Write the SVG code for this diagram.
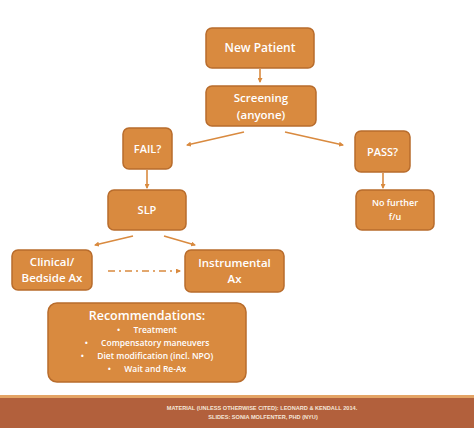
<svg xmlns="http://www.w3.org/2000/svg" width="474" height="428" viewBox="0 0 474 428">
<style>
.box{fill:#D98A3F;stroke:#B86C2C;stroke-width:1.5}
.t{fill:#FFFFFF;font-family:"Open Sans","Liberation Sans",sans-serif;text-anchor:middle;font-weight:600}
.b{white-space:pre}
.c{stroke:#D98A3F;stroke-width:1.6;fill:none}
.f{fill:#F5E6D8;font-family:"Liberation Sans",sans-serif;text-anchor:middle;font-size:5.6px;font-weight:bold}
</style>
<defs>
<marker id="ah" viewBox="0 0 10 10" refX="8" refY="5" markerWidth="5" markerHeight="5" orient="auto" markerUnits="userSpaceOnUse">
<path d="M0,0 L10,5 L0,10 z" fill="#D98A3F"/>
</marker>
</defs>
<rect width="474" height="428" fill="#FFFFFF"/>
<g id="connectors">
<line class="c" x1="260" y1="69" x2="260" y2="82" marker-end="url(#ah)"/>
<line class="c" x1="244" y1="132" x2="187" y2="145" marker-end="url(#ah)"/>
<line class="c" x1="285" y1="132" x2="343" y2="145" marker-end="url(#ah)"/>
<line class="c" x1="147" y1="170" x2="147" y2="188" marker-end="url(#ah)"/>
<line class="c" x1="383" y1="173" x2="383" y2="188" marker-end="url(#ah)"/>
<line class="c" x1="133" y1="236" x2="95" y2="245" marker-end="url(#ah)"/>
<line class="c" x1="164" y1="236" x2="195" y2="245" marker-end="url(#ah)"/>
<line class="c" x1="108" y1="271" x2="180" y2="271" stroke-dasharray="7,4,2,4" marker-end="url(#ah)"/>
</g>
<g id="new-patient">
<rect class="box" x="206" y="28" width="108" height="40" rx="6"/>
<text class="t" x="260" y="52" font-size="12">New Patient</text>
</g>
<g id="screening">
<rect class="box" x="206" y="86" width="110" height="40" rx="6"/>
<text class="t" x="261" y="102" font-size="11.5">Screening</text>
<text class="t" x="261" y="119" font-size="11.5">(anyone)</text>
</g>
<g id="fail">
<rect class="box" x="123" y="128" width="49" height="41" rx="6"/>
<text class="t" x="147.5" y="153" font-size="11">FAIL?</text>
</g>
<g id="pass">
<rect class="box" x="355" y="131" width="55" height="41" rx="6"/>
<text class="t" x="382.5" y="156" font-size="11">PASS?</text>
</g>
<g id="slp">
<rect class="box" x="108" y="190" width="78" height="40" rx="6"/>
<text class="t" x="147" y="214" font-size="11">SLP</text>
</g>
<g id="no-further">
<rect class="box" x="356" y="190" width="78" height="40" rx="6"/>
<text class="t" x="395" y="206" font-size="9">No further</text>
<text class="t" x="395" y="220" font-size="9">f/u</text>
</g>
<g id="clinical">
<rect class="box" x="12" y="250" width="80" height="40" rx="6"/>
<text class="t" x="52" y="266" font-size="11.5">Clinical/</text>
<text class="t" x="52" y="282" font-size="11.5">Bedside Ax</text>
</g>
<g id="instrumental">
<rect class="box" x="185" y="250" width="99" height="42" rx="6"/>
<text class="t" x="234.5" y="267" font-size="11.5">Instrumental</text>
<text class="t" x="234.5" y="283" font-size="11.5">Ax</text>
</g>
<g id="recommendations">
<rect class="box" x="48" y="303" width="198" height="79" rx="9"/>
<text class="t" x="147" y="320" font-size="12.5">Recommendations:</text>
<text class="t b" x="147" y="333" font-size="8.5">•      Treatment</text>
<text class="t b" x="147" y="346" font-size="8.5">•      Compensatory maneuvers</text>
<text class="t b" x="147" y="359" font-size="8.5">•      Diet modification (incl. NPO)</text>
<text class="t b" x="147" y="372" font-size="8.5">•      Wait and Re-Ax</text>
</g>
<g id="footer">
<rect x="0" y="395" width="474" height="3" fill="#E4A466"/>
<rect x="0" y="398" width="474" height="30" fill="#B2603C"/>
<text class="f" x="262" y="410">MATERIAL (UNLESS OTHERWISE CITED): LEONARD &amp; KENDALL 2014.</text>
<text class="f" x="263" y="419">SLIDES: SONIA MOLFENTER, PHD (NYU)</text>
</g>
</svg>
